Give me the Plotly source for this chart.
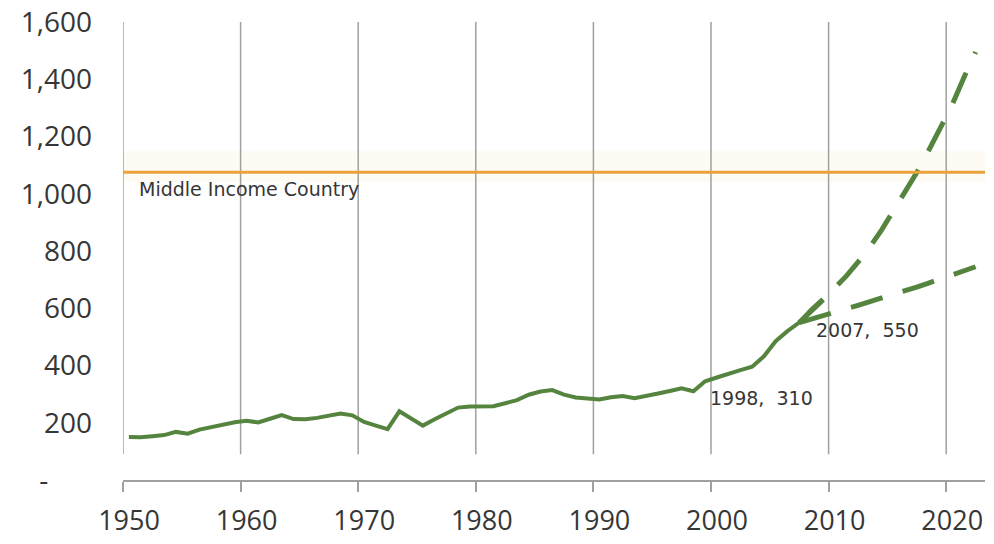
import plotly.graph_objects as go

# GDP per capita, historical series (annual)
years = list(range(1950, 2010))
gdp_per_capita = [
    150, 149, 153, 157, 168, 162, 176, 185, 192, 202,   # 1950s
    207, 201, 214, 227, 213, 212, 217, 224, 232, 226,   # 1960s
    203, 190, 178, 240, 215, 190, 212, 232, 253, 257,   # 1970s
    258, 258, 268, 279, 298, 309, 314, 298, 288, 284,   # 1980s
    281, 289, 293, 286, 293, 302, 311, 320, 310, 345,   # 1990s
    358, 372, 384, 396, 432, 485, 520, 550, 595, 632,   # 2000s
]

# Projections from 2007
proj_years = list(range(2007, 2023))
proj_high = [550, 588, 628, 670, 712, 761, 813, 873, 938, 1006,
             1074, 1150, 1226, 1310, 1405, 1495]
proj_low = [550, 561, 573, 586, 598, 610, 622, 635, 648, 661,
            674, 688, 702, 716, 730, 745]

middle_income = 1075
middle_income_label = "Middle Income Country"
labelled_points = [(1998, 310), (2007, 550)]

x_ticks = list(range(1950, 2021, 10))
x_ticktext = [str(v) for v in x_ticks]
y_ticks = list(range(0, 1601, 200))
y_ticktext = ["-" + "\u00a0" * 6, "200", "400", "600", "800",
              "1,000", "1,200", "1,400", "1,600"]

GREEN = "#55843f"
ORANGE = "#eca23a"
GRID = "#a0a0a0"
TEXT = "#363636"

fig = go.Figure()

# faint glow behind the threshold line
fig.add_hrect(y0=middle_income - 35, y1=middle_income + 75,
              fillcolor="rgba(245,205,130,0.08)", line_width=0, layer="below")

# vertical decade gridlines at category boundaries
for t in x_ticks:
    fig.add_shape(type="line", xref="x", yref="y",
                  x0=t - 0.5, x1=t - 0.5, y0=90, y1=1600,
                  line=dict(color=GRID, width=1.5), layer="below")

fig.add_hline(y=middle_income, line=dict(color=ORANGE, width=3))

fig.add_trace(go.Scatter(x=proj_years, y=proj_low, mode="lines",
                         line=dict(color=GREEN, width=5, dash="33px,21px"),
                         hoverinfo="skip", showlegend=False))
fig.add_trace(go.Scatter(x=proj_years, y=proj_high, mode="lines",
                         line=dict(color=GREEN, width=5, dash="33px,21px"),
                         hoverinfo="skip", showlegend=False))
fig.add_trace(go.Scatter(x=years, y=gdp_per_capita, mode="lines",
                         line=dict(color=GREEN, width=4),
                         showlegend=False))

fig.add_annotation(x=1950.7, y=middle_income, text=middle_income_label,
                   xref="x", yref="y", showarrow=False,
                   xanchor="left", yanchor="middle", yshift=-17,
                   font=dict(family="DejaVu Sans", size=19, color=TEXT))

for yr, val in labelled_points:
    fig.add_annotation(x=yr, y=val, text=f"{yr},\u00a0\u00a0{val}",
                       xref="x", yref="y", showarrow=False,
                       xanchor="left", yanchor="middle",
                       xshift=15, yshift=-7,
                       font=dict(family="DejaVu Sans", size=19, color=TEXT))

fig.update_layout(
    width=994, height=544,
    margin=dict(l=123, r=9, t=22, b=64, autoexpand=False),
    paper_bgcolor="white", plot_bgcolor="white",
    showlegend=False,
    xaxis=dict(
        range=[1949.5, 2022.8],
        tickmode="array", tickvals=[t - 0.5 for t in x_ticks],
        ticktext=x_ticktext, ticklabelshift=6,
        ticks="outside", ticklen=10, tickwidth=1.5, tickcolor=GRID,
        showline=True, linecolor=GRID, linewidth=1.5,
        showgrid=False, zeroline=False,
        tickfont=dict(family="Open Sans", size=27, color=TEXT),
        ticklabelstandoff=6,
    ),
    yaxis=dict(
        range=[0, 1600],
        tickmode="array", tickvals=y_ticks, ticktext=y_ticktext,
        ticks="", showline=False, showgrid=False, zeroline=False,
        tickfont=dict(family="Open Sans", size=28, color=TEXT),
        ticklabelstandoff=30,
    ),
)

fig.write_html("out.html")
